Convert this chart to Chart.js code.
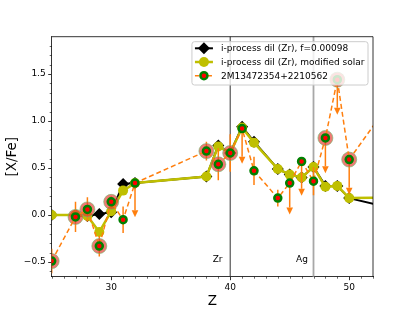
<!DOCTYPE html>
<html>
<head>
<meta charset="utf-8">
<script src="https://cdn.jsdelivr.net/npm/chart.js@4.4.1/dist/chart.umd.min.js"></script>
<style>
  html, body { margin: 0; padding: 0; background: #fff; }
  #wrap { width: 415px; height: 311px; }
</style>
</head>
<body>
<div id="wrap"><canvas id="c" width="415" height="311"></canvas></div>
<script>
// i-process dilution models (the Z=56 point only shapes the tail past the axis)
const modelZ = [25, 27, 28, 29, 30, 31, 32, 38, 39, 40, 41, 42, 44, 45, 46, 47, 48, 49, 50, 56];
const dilFixed = [0.0, 0.0, -0.01, 0.01, 0.03, 0.33, 0.34, 0.41, 0.74, 0.66, 0.94, 0.78, 0.49, 0.43, 0.40, 0.51, 0.31, 0.31, 0.18, 0.0];
const dilSolar = [0.0, 0.0, -0.01, -0.18, 0.04, 0.26, 0.34, 0.41, 0.73, 0.66, 0.93, 0.77, 0.49, 0.43, 0.40, 0.51, 0.30, 0.31, 0.18, 0.19];

// observed star
const obsZ = [25, 27, 28, 29, 30, 31, 32, 38, 39, 40, 41, 42, 44, 45, 46, 47, 48, 49, 50, 56];
const obsVal = [-0.49, -0.02, 0.06, -0.33, 0.14, -0.05, 0.34, 0.68, 0.54, 0.66, 0.92, 0.47, 0.18, 0.34, 0.57, 0.36, 0.82, 1.44, 0.59, 1.65];
const obsErr = [0.13, 0.16, 0.13, 0.11, 0.06, 0.14, 0.29, 0.10, 0.17, 0.20, 0.30, 0.15, 0.09, 0.26, 0.29, 0.15, 0.30, 0.30, 0.30, 0.10];
const obsUpper = [0, 0, 0, 0, 0, 0, 1, 0, 0, 0, 1, 0, 0, 1, 1, 0, 1, 1, 1, 0];
const obsHalo = [1, 1, 1, 1, 1, 0, 0, 1, 1, 1, 0, 0, 0, 0, 0, 0, 1, 1, 1, 0];

// reference elements marked with vertical lines
const refZ = [40, 47];
const refNames = ['Zr', 'Ag'];

const xTicks = [30, 40, 50];
const yTicks = [-0.5, 0.0, 0.5, 1.0, 1.5];

const FONT = 'DejaVu Sans';
const ORANGE = '#ff7f0e';
const OLIVE = 'rgb(191,191,0)';

const pts = (xs, ys) => xs.map((x, i) => ({ x: x, y: ys[i] }));
const haloPts = obsZ.map((z, i) => obsHalo[i] ? { x: z, y: obsVal[i] } : null).filter(p => p);

const labels = [
  'i-process dil (Zr), f=0.00098',
  'i-process dil (Zr), modified solar',
  '2M13472354+2210562'
];

function drawDiamond(ctx, x, y, r, color) {
  ctx.beginPath();
  ctx.moveTo(x, y - r);
  ctx.lineTo(x + r, y);
  ctx.lineTo(x, y + r);
  ctx.lineTo(x - r, y);
  ctx.closePath();
  ctx.fillStyle = color;
  ctx.fill();
}

const decor = {
  id: 'decor',
  beforeDatasetsDraw(chart) {
    const { ctx, chartArea: a, scales: { x, y } } = chart;
    ctx.save();
    refZ.forEach((z, i) => {
      const px = x.getPixelForValue(z);
      ctx.beginPath();
      ctx.strokeStyle = i === 0 ? '#333' : '#a8a8a8';
      ctx.lineWidth = i === 0 ? 1 : 1.8;
      ctx.moveTo(px, a.top);
      ctx.lineTo(px, a.bottom);
      ctx.stroke();
      ctx.fillStyle = '#000';
      ctx.font = '9px "' + FONT + '"';
      ctx.textAlign = 'left';
      ctx.textBaseline = 'alphabetic';
      ctx.fillText(refNames[i], x.getPixelForValue(z - 1.47), y.getPixelForValue(-0.5));
    });
    ctx.restore();
  },
  beforeDatasetDraw(chart, args) {
    if (args.index !== 2) return;
    const { ctx, chartArea: a, scales: { x, y } } = chart;
    ctx.save();
    ctx.beginPath();
    ctx.rect(a.left, a.top, a.right - a.left, a.bottom - a.top);
    ctx.clip();
    ctx.strokeStyle = ORANGE;
    ctx.fillStyle = ORANGE;
    ctx.lineWidth = 1.5;
    obsZ.forEach((z, i) => {
      const px = x.getPixelForValue(z);
      if (obsUpper[i]) {
        const y0 = y.getPixelForValue(obsVal[i]);
        const y1 = y.getPixelForValue(obsVal[i] - obsErr[i]);
        ctx.beginPath();
        ctx.moveTo(px, y0);
        ctx.lineTo(px, y1);
        ctx.stroke();
        ctx.beginPath();
        ctx.moveTo(px - 3.3, y1);
        ctx.lineTo(px + 3.3, y1);
        ctx.lineTo(px, y1 + 7);
        ctx.closePath();
        ctx.fill();
      } else {
        ctx.beginPath();
        ctx.moveTo(px, y.getPixelForValue(obsVal[i] + obsErr[i]));
        ctx.lineTo(px, y.getPixelForValue(obsVal[i] - obsErr[i]));
        ctx.stroke();
      }
    });
    ctx.restore();
  },
  afterDraw(chart) {
    const { ctx, chartArea: a, scales: { x, y } } = chart;
    ctx.save();
    // minor ticks
    ctx.strokeStyle = '#000';
    ctx.lineWidth = 0.6;
    ctx.beginPath();
    for (let z = 25; z <= 52; z++) {
      if (z % 10 === 0) continue;
      const px = Math.round(x.getPixelForValue(z)) + 0.5;
      ctx.moveTo(px, a.bottom);
      ctx.lineTo(px, a.bottom + 2);
    }
    for (let k = -6; k <= 18; k++) {
      if (k % 5 === 0) continue;
      const py = Math.round(y.getPixelForValue(k / 10)) + 0.5;
      ctx.moveTo(a.left, py);
      ctx.lineTo(a.left - 2, py);
    }
    ctx.stroke();
    // top and right spines
    ctx.lineWidth = 0.8;
    ctx.beginPath();
    ctx.moveTo(a.left, a.top);
    ctx.lineTo(a.right, a.top);
    ctx.lineTo(a.right, a.bottom);
    ctx.stroke();

    // legend
    ctx.font = '9px "' + FONT + '"';
    const maxW = Math.max(...labels.map(t => ctx.measureText(t).width));
    const bw = 29 + maxW + 3.5;
    const bh = 43.3;
    const bx = a.right - 5 - bw;
    const by = a.top + 5;
    ctx.beginPath();
    ctx.roundRect(bx, by, bw, bh, 2.5);
    ctx.fillStyle = 'rgba(255,255,255,0.8)';
    ctx.fill();
    ctx.strokeStyle = '#cccccc';
    ctx.lineWidth = 1;
    ctx.stroke();

    const hx0 = bx + 3, hx1 = bx + 21, hm = bx + 12;
    const rows = [by + 6.6, by + 20.3, by + 34];
    // black diamond entry
    ctx.strokeStyle = '#000';
    ctx.lineWidth = 2;
    ctx.beginPath();
    ctx.moveTo(hx0, rows[0]);
    ctx.lineTo(hx1, rows[0]);
    ctx.stroke();
    drawDiamond(ctx, hm, rows[0], 6, '#000');
    // olive circle entry
    ctx.strokeStyle = OLIVE;
    ctx.lineWidth = 2.5;
    ctx.beginPath();
    ctx.moveTo(hx0, rows[1]);
    ctx.lineTo(hx1, rows[1]);
    ctx.stroke();
    ctx.beginPath();
    ctx.arc(hm, rows[1], 5, 0, Math.PI * 2);
    ctx.fillStyle = OLIVE;
    ctx.fill();
    // observed entry
    ctx.strokeStyle = ORANGE;
    ctx.lineWidth = 1.5;
    ctx.setLineDash([4, 2.5]);
    ctx.beginPath();
    ctx.moveTo(hx0, rows[2]);
    ctx.lineTo(hx1, rows[2]);
    ctx.stroke();
    ctx.setLineDash([]);
    ctx.beginPath();
    ctx.arc(hm, rows[2], 3.5, 0, Math.PI * 2);
    ctx.fillStyle = 'red';
    ctx.fill();
    ctx.strokeStyle = 'green';
    ctx.lineWidth = 2.5;
    ctx.stroke();

    ctx.fillStyle = '#000';
    ctx.textAlign = 'left';
    ctx.textBaseline = 'middle';
    labels.forEach((t, i) => ctx.fillText(t, bx + 29, rows[i] + 0.5));
    ctx.restore();
  }
};

new Chart(document.getElementById('c'), {
  type: 'scatter',
  data: {
    datasets: [
      {
        label: labels[0],
        data: pts(modelZ, dilFixed),
        showLine: true,
        borderColor: '#000',
        backgroundColor: '#000',
        borderWidth: 2,
        pointStyle: 'rectRot',
        pointRadius: 6,
        pointBorderWidth: 0,
        order: 4
      },
      {
        label: labels[1],
        data: pts(modelZ, dilSolar),
        showLine: true,
        borderColor: OLIVE,
        backgroundColor: OLIVE,
        borderWidth: 2.5,
        pointStyle: 'circle',
        pointRadius: 5,
        pointBorderWidth: 0,
        order: 3
      },
      {
        label: 'halo',
        data: haloPts,
        showLine: false,
        pointStyle: 'circle',
        pointRadius: 7.5,
        backgroundColor: 'rgba(232,58,48,0.68)',
        borderColor: 'rgba(110,185,110,0.6)',
        pointBackgroundColor: 'rgba(232,58,48,0.68)',
        pointBorderColor: 'rgba(110,185,110,0.6)',
        pointBorderWidth: 1,
        order: 2
      },
      {
        label: labels[2],
        data: pts(obsZ, obsVal),
        showLine: true,
        borderColor: ORANGE,
        borderWidth: 1.5,
        borderDash: [5, 3],
        pointStyle: 'circle',
        pointRadius: 3.5,
        pointBackgroundColor: 'red',
        pointBorderColor: 'green',
        pointBorderWidth: 2.5,
        order: 1
      }
    ]
  },
  options: {
    responsive: false,
    animation: false,
    devicePixelRatio: 1,
    layout: { padding: { left: 0, top: 36.7, right: 42, bottom: 0 } },
    plugins: {
      legend: { display: false },
      tooltip: { enabled: false }
    },
    elements: { line: { tension: 0 } },
    scales: {
      x: {
        type: 'linear',
        min: 25,
        max: 52,
        afterBuildTicks: s => { s.ticks = xTicks.map(v => ({ value: v })); },
        afterFit: s => { s.height = 34.3; },
        grid: { drawOnChartArea: false, drawTicks: true, tickLength: 3.5, tickWidth: 0.8, tickColor: '#000' },
        border: { display: true, color: '#000', width: 0.8 },
        ticks: {
          color: '#000',
          font: { family: FONT, size: 9 },
          padding: 2,
          maxRotation: 0,
          autoSkip: false,
          callback: v => String(v)
        },
        title: {
          display: true,
          text: 'Z',
          color: '#000',
          font: { family: FONT, size: 13.5 },
          padding: { top: 0, bottom: 1 }
        }
      },
      y: {
        type: 'linear',
        min: -0.656,
        max: 1.897,
        afterBuildTicks: s => { s.ticks = yTicks.map(v => ({ value: v })); },
        afterFit: s => { s.width = 51.7; },
        grid: { drawOnChartArea: false, drawTicks: true, tickLength: 3.5, tickWidth: 0.8, tickColor: '#000' },
        border: { display: true, color: '#000', width: 0.8 },
        ticks: {
          color: '#000',
          font: { family: FONT, size: 9 },
          padding: 2.5,
          autoSkip: false,
          callback: v => (v < 0 ? '\u2212' : '') + Math.abs(v).toFixed(1)
        },
        title: {
          display: true,
          text: '[X/Fe]',
          color: '#000',
          font: { family: FONT, size: 13.5 },
          padding: { top: 4.6, bottom: 0 }
        }
      }
    }
  },
  plugins: [decor]
});
</script>
</body>
</html>
